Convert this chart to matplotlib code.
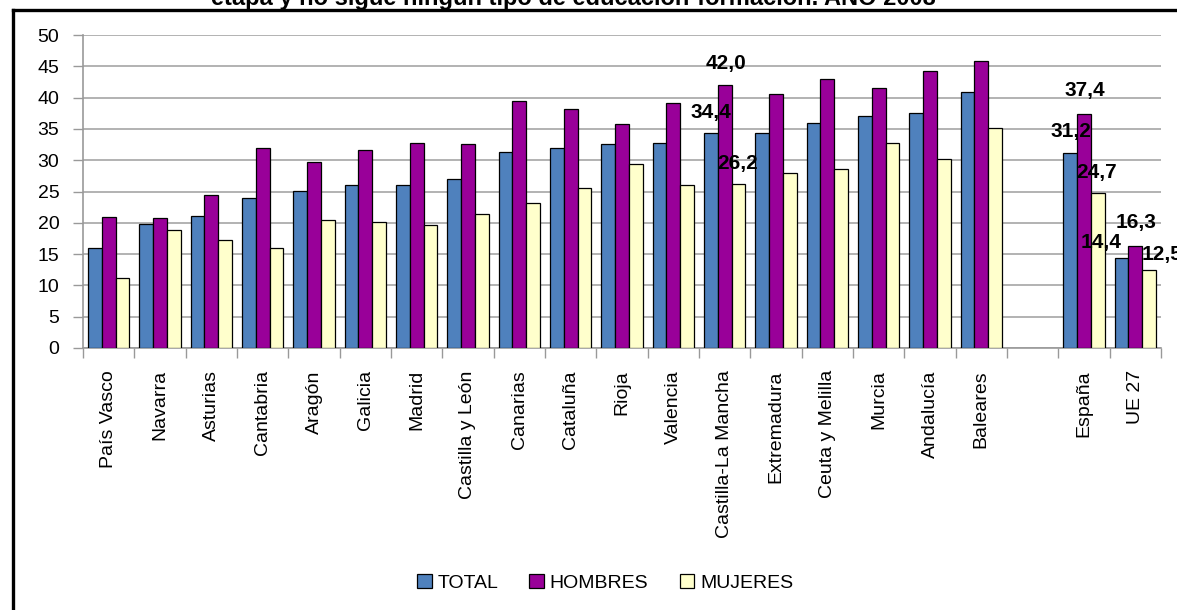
import numpy as np
import matplotlib
matplotlib.use('Agg')
import matplotlib.pyplot as plt
from matplotlib.lines import Line2D
from matplotlib.patches import Patch

# data
categories = ['País Vasco', 'Navarra', 'Asturias', 'Cantabria', 'Aragón', 'Galicia',
              'Madrid', 'Castilla y León', 'Canarias', 'Cataluña', 'Rioja', 'Valencia',
              'Castilla-La Mancha', 'Extremadura', 'Ceuta y Melilla', 'Murcia',
              'Andalucía', 'Baleares', 'España', 'UE 27']
total = [15.9, 19.8, 21.1, 24.0, 25.1, 26.0, 26.1, 27.0, 31.3, 31.9, 32.6, 32.8,
         34.4, 34.4, 36.0, 37.1, 37.6, 40.9, 31.2, 14.4]
hombres = [20.9, 20.7, 24.5, 32.0, 29.7, 31.6, 32.7, 32.6, 39.4, 38.1, 35.8, 39.2,
           42.0, 40.6, 42.9, 41.5, 44.3, 45.8, 37.4, 16.3]
mujeres = [11.2, 18.8, 17.3, 15.9, 20.4, 20.2, 19.6, 21.4, 23.2, 25.5, 29.4, 26.1,
           26.2, 27.9, 28.6, 32.7, 30.2, 35.1, 24.7, 12.5]
series_names = ['TOTAL', 'HOMBRES', 'MUJERES']
labelled = ['Castilla-La Mancha', 'España', 'UE 27']
title = 'etapa y no sigue ningún tipo de educación-formación. AÑO 2008'

colors = ['#4F81BD', '#990099', '#FFFFCC']
# label offsets in pixels (dx, dy) relative to bar top centre
label_offsets = {
    ('Castilla-La Mancha', 0): (0, 20), ('Castilla-La Mancha', 1): (1, 22),
    ('Castilla-La Mancha', 2): (-1, 20),
    ('España', 0): (1, 21), ('España', 1): (1, 23), ('España', 2): (-1, 21),
    ('UE 27', 0): (-20, 15), ('UE 27', 1): (1, 23), ('UE 27', 2): (13, 15),
}

plt.rcParams['font.family'] = ['Liberation Sans', 'DejaVu Sans']

W, H = 1177, 610
fig = plt.figure(figsize=(W / 100, H / 100), dpi=100)
ax = fig.add_axes([83 / W, 1 - 348 / H, (1161 - 83) / W, (348 - 35) / H])

# one empty slot between the regions and España
x = np.array(list(range(18)) + [19, 20], dtype=float)
bw = 0.27
data = [total, hombres, mujeres]
for k, vals in enumerate(data):
    bars = ax.bar(x + (k - 1) * bw, vals, bw, color=colors[k], edgecolor='black',
                  linewidth=0.9, zorder=3)
    for cat, rect, v in zip(categories, bars, vals):
        if cat in labelled:
            dx, dy = label_offsets[(cat, k)]
            ax.annotate(f'{v:.1f}'.replace('.', ','),
                        (rect.get_x() + rect.get_width() / 2, v),
                        xytext=(dx * 0.72, dy * 0.72), textcoords='offset points',
                        ha='center', va='center', fontsize=15, fontweight='bold',
                        zorder=5, annotation_clip=False)

ax.set_xlim(-0.5, 20.5)
ax.set_ylim(0, 50)
ax.set_yticks(np.arange(0, 51, 5))
ax.tick_params(axis='y', length=7, width=1, color='#999999', pad=10, labelsize=14)
ax.set_xticks(np.arange(-0.5, 21, 1))
ax.set_xticklabels([])
ax.set_xticks(x, minor=True)
ax.set_xticklabels(categories, minor=True, rotation=90, fontsize=14, va='top')
ax.tick_params(axis='x', which='major', length=7, width=1, color='#999999', direction='out')
ax.tick_params(axis='x', which='minor', length=0, pad=16)
ax.grid(axis='y', color='#A6A6A6', linewidth=1.2, zorder=0)
for s in ['top', 'right']:
    ax.spines[s].set_visible(False)
for s in ['left', 'bottom']:
    ax.spines[s].set_color('#999999')
    ax.spines[s].set_linewidth(1.2)

handles = [Patch(facecolor=c, edgecolor='black', linewidth=0.9) for c in colors]
fig.legend(handles, series_names, loc='center', bbox_to_anchor=(605 / W, 1 - 583 / H),
           ncol=3, frameon=False, prop={'size': 14},
           handlelength=0.75, handleheight=0.75, handletextpad=0.3, columnspacing=1.6)

# title, mostly cut off by the top of the image
fig.text(573 / W, 1 - 5 / H, title, ha='center', va='baseline', fontsize=17,
         fontweight='bold')

# outer frame of the chart
fig.add_artist(Line2D([13 / W, 13 / W], [0, 1 - 10 / H], color='black', linewidth=2.4,
                      transform=fig.transFigure))
fig.add_artist(Line2D([13 / W, 1], [1 - 10 / H, 1 - 10 / H], color='black', linewidth=2.4,
                      transform=fig.transFigure))

fig.savefig('out.png', dpi=100)
